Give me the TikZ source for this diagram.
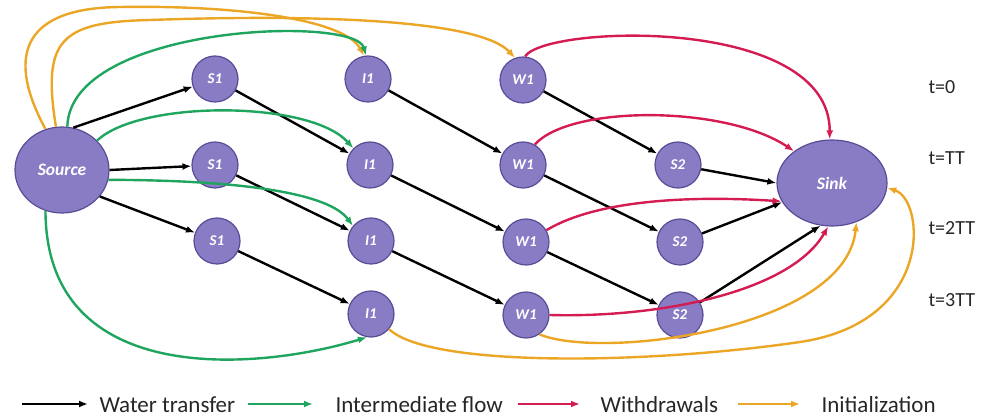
\documentclass[tikz,border=0pt]{standalone}
\usepackage{fontspec}
\setmainfont{Carlito}
\usetikzlibrary{arrows.meta,shapes.geometric}
\definecolor{nodefill}{RGB}{137,124,196}
\definecolor{nodeborder}{RGB}{88,76,150}
\definecolor{interc}{RGB}{32,165,95}
\definecolor{withc}{RGB}{212,28,82}
\definecolor{initc}{RGB}{236,166,38}
\begin{document}
\begin{tikzpicture}[x=1pt,y=-1pt,
  flow/.style={line width=2.4pt,-{Latex[length=9pt,width=7pt]}},
  wt/.style={flow,draw=black},
  inter/.style={flow,draw=interc},
  withd/.style={flow,draw=withc},
  init/.style={flow,draw=initc},
  smallnode/.style={circle,draw=nodeborder,line width=1.2pt,fill=nodefill,minimum size=46pt,inner sep=0pt,text=white,font=\fontsize{15}{17}\selectfont\bfseries\itshape},
  bignode/.style={ellipse,draw=nodeborder,line width=1.2pt,fill=nodefill,inner sep=0pt,text=white,font=\fontsize{17.5}{19}\selectfont\bfseries\itshape},
  tlabel/.style={font=\fontsize{20}{22}\selectfont,text=black!85,anchor=west},
  legtext/.style={font=\fontsize{23}{25}\selectfont,text=black!85,anchor=west}]
\useasboundingbox (0,0) rectangle (991,419);
% nodes
\node[bignode,minimum width=94pt,minimum height=86pt] (src) at (62,170) {Source};
\node[bignode,minimum width=110pt,minimum height=86pt] (sink) at (832,183) {Sink};
\node[smallnode] (s1a) at (215,79) {S1};
\node[smallnode] (s1b) at (215,165) {S1};
\node[smallnode] (s1c) at (217,241) {S1};
\node[smallnode] (i1a) at (368,79) {I1};
\node[smallnode] (i1b) at (370,165) {I1};
\node[smallnode] (i1c) at (371,241) {I1};
\node[smallnode] (i1d) at (371,314) {I1};
\node[smallnode] (w1a) at (523,80) {W1};
\node[smallnode] (w1b) at (523,165) {W1};
\node[smallnode] (w1c) at (526,242) {W1};
\node[smallnode] (w1d) at (526,315) {W1};
\node[smallnode] (s2a) at (678,165) {S2};
\node[smallnode] (s2b) at (680,242) {S2};
\node[smallnode] (s2c) at (680,315) {S2};
% time labels
\node[tlabel] (t0) at (925,87) {t=0};
\node[tlabel] (t1) at (925,158) {t=TT};
\node[tlabel] (t2) at (925,228) {t=2TT};
\node[tlabel] (t3) at (925,300) {t=3TT};
% water transfer
\draw[wt] (src.75) -- (s1a);
\draw[wt] (src.east) -- (s1b);
\draw[wt] (src.-35) -- (s1c);
\draw[wt] (s1a) -- (i1b);
\draw[wt] (s1b) -- (i1c);
\draw[wt] (s1c) -- (i1d);
\draw[wt] (i1a) -- (w1b);
\draw[wt] (i1b) -- (w1c);
\draw[wt] (i1c) -- (w1d);
\draw[wt] (w1a) -- (s2a);
\draw[wt] (w1b) -- (s2b);
\draw[wt] (w1c) -- (s2c);
\draw[wt] (s2a) -- (sink.180);
\draw[wt] (s2b) -- (sink);
\draw[wt] (s2c) -- (sink.-105);
% initialization
\draw[init] (src.112) .. controls (8,60) and (18,8) .. (120,7) .. controls (240,5) and (345,20) .. (i1a.100);
\draw[init] (src.98) .. controls (42,40) and (60,22) .. (150,20) .. controls (320,14) and (480,20) .. (w1a.110);
\draw[init] (i1d.-40) .. controls (430,368) and (650,364) .. (800,342) .. controls (935,322) and (925,200) .. (sink.-5);
\draw[init] (w1d.-55) .. controls (600,360) and (845,330) .. (sink.-58);
% intermediate flow
\draw[inter] (src.83) .. controls (70,25) and (355,15) .. (i1a.95);
\draw[inter] (src.40) .. controls (140,100) and (310,100) .. (i1b.135);
\draw[inter] (src.-12) .. controls (210,180) and (325,188) .. (i1c.140);
\draw[inter] (src.-112) .. controls (46,390) and (260,370) .. (i1d.-100);
% withdrawals
\draw[withd] (w1a.85) .. controls (545,25) and (830,15) .. (sink.93);
\draw[withd] (w1b.60) .. controls (570,105) and (725,105) .. (sink.140);
\draw[withd] (w1c.30) .. controls (600,198) and (700,196) .. (sink.200);
\draw[withd] (w1d.east) .. controls (660,318) and (790,292) .. (sink.-95);
% legend
\coordinate (la1) at (22,404); \coordinate (lb1) at (88,404);
\coordinate (la2) at (248,404); \coordinate (lb2) at (313,404);
\coordinate (la3) at (518,404); \coordinate (lb3) at (580,404);
\coordinate (la4) at (738,404); \coordinate (lb4) at (800,404);
\draw[wt] (la1) -- (lb1);
\draw[inter] (la2) -- (lb2);
\draw[withd] (la3) -- (lb3);
\draw[init] (la4) -- (lb4);
\node[legtext] (lt1) at (96,405) {Water transfer};
\node[legtext] (lt2) at (332,405) {Intermediate flow};
\node[legtext] (lt3) at (597,405) {Withdrawals};
\node[legtext] (lt4) at (818,405) {Initialization};
\end{tikzpicture}
\end{document}
